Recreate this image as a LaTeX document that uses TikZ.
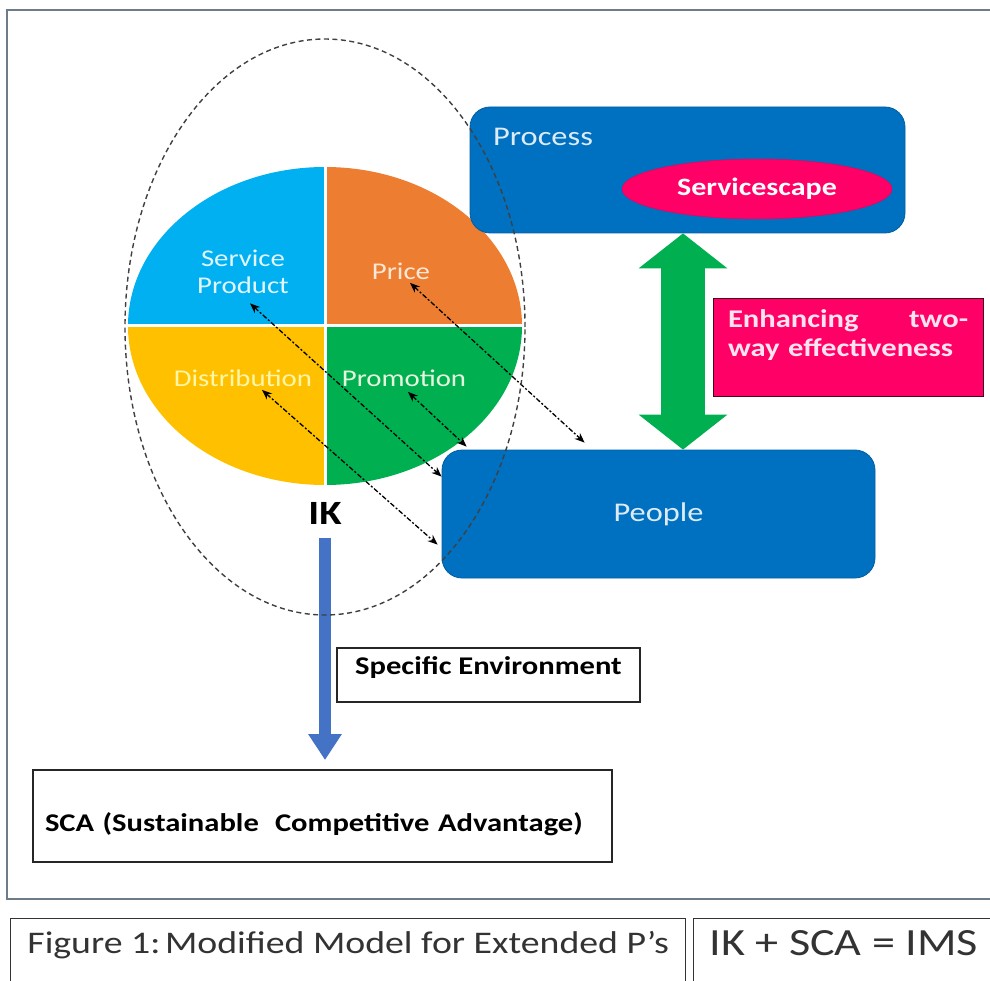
\documentclass[tikz,border=0pt]{standalone}
\usepackage{fontspec}
\setmainfont{Carlito}[FakeStretch=1.2]
\usetikzlibrary{arrows.meta,shapes.geometric}

\definecolor{boxblue}{HTML}{0070C0}
\definecolor{spblue}{HTML}{00B0F0}
\definecolor{priceorange}{HTML}{ED7D31}
\definecolor{distyellow}{HTML}{FFC000}
\definecolor{promogreen}{HTML}{00B050}
\definecolor{hotpink}{HTML}{FF0066}
\definecolor{scablue}{HTML}{4472C4}
\definecolor{framegray}{HTML}{6E7C8A}
\definecolor{sptext}{HTML}{E2F5FF}
\definecolor{pricetext}{HTML}{FDE8D6}
\definecolor{disttext}{HTML}{FFF6A8}
\definecolor{promotext}{HTML}{E6F6DE}
\definecolor{boxtext}{HTML}{DDEBF7}
\definecolor{pinktext}{HTML}{FFE4F0}
\definecolor{captext}{HTML}{333333}

\newcommand\pxfont[2]{\fontsize{#1}{#2}\selectfont}

\tikzset{
  slicelabel/.style={font=\pxfont{24pt}{27pt}, align=center},
  bluebox/.style={fill=boxblue, draw=boxblue!85!black, line width=0.8pt, rounded corners=20pt},
  plainbox/.style={draw=black!85, line width=1.4pt, fill=white},
  capbox/.style={draw=black!80, line width=1.4pt, fill=white, text=captext},
  dlink/.style={{Stealth[length=10pt,width=8pt]}-{Stealth[length=10pt,width=8pt]},
    line width=1.3pt, dash pattern=on 5pt off 2pt on 2pt off 2pt},
  greenarrow/.style={promogreen, line width=44pt,
    {Triangle[width=87pt,length=35pt]}-{Triangle[width=87pt,length=35pt]}},
  downarrow/.style={scablue, line width=12pt, -{Triangle[width=32pt,length=26pt]}},
  ikring/.style={black!75, line width=1.4pt, dash pattern=on 5pt off 3.5pt}
}

\begin{document}
\begin{tikzpicture}[x=1pt,y=-1pt]
\useasboundingbox (0,0) rectangle (990,981);
\fill[white] (0,0) rectangle (990,981);

\draw[framegray, line width=1.5pt] (995,10) -- (7,10) -- (7,899) -- (995,899);

\coordinate (O) at (325,326);
\coordinate (scatop) at (325,760);

\fill[spblue] (O) -- ++(-197pt,0pt) arc[start angle=180, end angle=90, x radius=197pt, y radius=159pt] -- cycle;
\fill[priceorange] (O) -- ++(0pt,159pt) arc[start angle=90, end angle=0, x radius=197pt, y radius=159pt] -- cycle;
\fill[promogreen] (O) -- ++(197pt,0pt) arc[start angle=0, end angle=-90, x radius=197pt, y radius=159pt] -- cycle;
\fill[distyellow] (O) -- ++(0pt,-159pt) arc[start angle=-90, end angle=-180, x radius=197pt, y radius=159pt] -- cycle;
\draw[white, line width=3pt] ([xshift=-197pt]O) -- ([xshift=197pt]O);
\draw[white, line width=3pt] ([yshift=159pt]O) -- ([yshift=-159pt]O);

\node[slicelabel, text=sptext] (sp) at (243,272) {Service\\Product};
\node[slicelabel, text=pricetext] (price) at (401,271) {Price};
\node[slicelabel, text=disttext] (dist) at (243,378) {Distribution};
\node[slicelabel, text=promotext] (promo) at (404,378) {Promotion};

\node[font=\bfseries\pxfont{34pt}{36pt}] (ik) at (325,513) {IK};

\node[bluebox, minimum width=435pt, minimum height=126pt] (process) at (687.5,170) {};
\node[anchor=west, text=boxtext, font=\pxfont{27pt}{30pt}] (proclabel) at ([xshift=20pt,yshift=-30pt]process.north west) {Process};
\node[ellipse, fill=hotpink, draw=hotpink!90!black, minimum width=270pt, minimum height=60pt,
  text=white, font=\bfseries\pxfont{25pt}{28pt}] (scape) at (757,189) {Servicescape};

\node[bluebox, minimum width=433pt, minimum height=128pt, text=boxtext, font=\pxfont{27pt}{30pt}] (people) at (658.5,514) {People};

\draw[greenarrow] ([xshift=-4.5pt]process.south) -- ([xshift=24.5pt]people.north);

\node[draw=black!70!hotpink, fill=hotpink, line width=1pt, minimum width=270pt, minimum height=97pt] (enh) at (848,347.5) {};
\node[anchor=north west, text width=240pt, align=left, text=pinktext, font=\bfseries\pxfont{25.5pt}{29pt}]
  (enhtext) at ([xshift=12pt,yshift=-8pt]enh.north west) {Enhancing\hfill two-\\way effectiveness};

\draw[dlink] ([xshift=7pt,yshift=-6pt]sp.south) -- ([yshift=-27pt]people.north west);
\draw[dlink] ([xshift=9pt]price.south) -- ([xshift=143pt,yshift=7pt]people.north west);
\draw[dlink] ([xshift=4pt,yshift=-2pt]promo.south) -- ([xshift=25pt,yshift=3pt]people.north west);
\draw[dlink] ([xshift=19pt]dist.south) -- ([xshift=-4pt,yshift=-95pt]people.north west);

\draw[downarrow] ([yshift=-10pt]ik.south) -- (scatop);

\node[plainbox, minimum width=303pt, minimum height=54pt, text depth=19pt,
  font=\bfseries\pxfont{25.5pt}{28pt}] (env) at (488.5,675) {Specific Environment};
\node[plainbox, minimum width=579pt, minimum height=92pt, text width=555pt, align=left, text height=36pt,
  font=\bfseries\pxfont{25.5pt}{28pt}] (sca) at (322.5,816) {SCA (Sustainable\hspace{0.3em} Competitive Advantage)};

\draw[ikring] (325,327) ellipse[x radius=200pt, y radius=288pt];

\node[capbox, anchor=north west, minimum width=675pt, minimum height=90pt, text depth=42pt,
  font=\pxfont{31.5pt}{34pt}] (cap) at (10,918) {Figure 1:\hspace{0.15em}Modified Model for Extended P’s};
\node[capbox, anchor=north west, minimum width=300pt, minimum height=90pt, text depth=42pt,
  font=\pxfont{38.5pt}{41pt}] (formula) at (693,918) {IK + SCA = IMS};
\end{tikzpicture}
\end{document}
